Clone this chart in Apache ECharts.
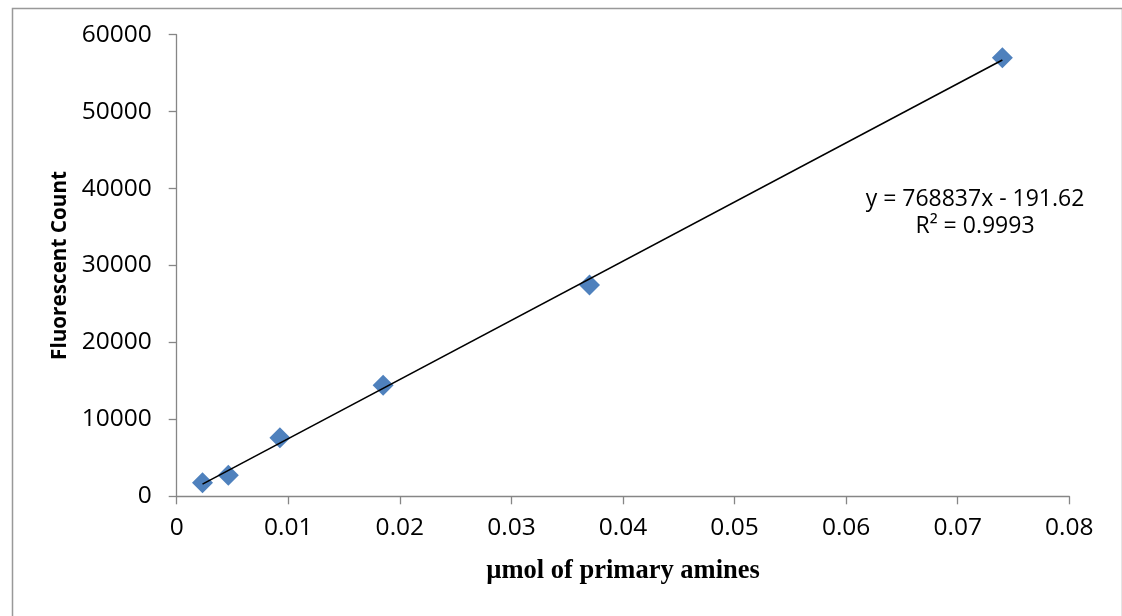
<!DOCTYPE html>
<html>
<head>
<meta charset="utf-8">
<script src="https://cdn.jsdelivr.net/npm/echarts@6/dist/echarts.min.js"></script>
<style>html,body{margin:0;padding:0;background:#fff;}#c{width:1122px;height:616px;}</style>
</head>
<body>
<div id="c"></div>
<script>
const amines = [0.0023125, 0.004625, 0.00925, 0.0185, 0.037, 0.074];
const counts = [1750, 2750, 7600, 14450, 27450, 57000];
const trendX = [0.0023125, 0.074];
const trendY = [1586, 56702];
const xTitle = 'µmol of primary amines';
const yTitle = 'Fluorescent Count';
const eqLines = ['y = 768837x - 191.62', 'R² = 0.9993'];

const chart = echarts.init(document.getElementById('c'), null, {renderer: 'canvas'});
const axisGray = '#868686';
const font = '"Open Sans", "Noto Sans", sans-serif';
chart.setOption({
  animation: false,
  backgroundColor: '#fff',
  grid: {left: 176.7, right: 52.7, top: 34.7, bottom: 119.7, containLabel: false},
  xAxis: {
    type: 'value', min: 0, max: 0.08, interval: 0.01,
    axisLine: {show: true, onZero: false, lineStyle: {color: axisGray, width: 1.3}},
    axisTick: {show: true, length: 8, lineStyle: {color: axisGray, width: 1.3}},
    splitLine: {show: false},
    axisLabel: {color: '#000', fontFamily: font, fontSize: 24.5, margin: 19,
      formatter: v => (Math.round(v * 100) / 100).toString()},
    name: xTitle, nameLocation: 'middle', nameGap: 61,
    nameTextStyle: {color: '#000', fontFamily: '"Liberation Serif", "Times New Roman", serif', fontWeight: 'bold', fontSize: 26.5}
  },
  yAxis: {
    type: 'value', min: 0, max: 60000, interval: 10000,
    axisLine: {show: true, lineStyle: {color: axisGray, width: 1.3}},
    axisTick: {show: true, length: 8, lineStyle: {color: axisGray, width: 1.3}},
    splitLine: {show: false},
    axisLabel: {color: '#000', fontFamily: font, fontSize: 24.5, margin: 25,
      formatter: v => String(v)},
    name: yTitle, nameLocation: 'middle', nameGap: 104,
    nameTextStyle: {color: '#000', fontFamily: font, fontWeight: 'bold', fontSize: 20.7}
  },
  series: [
    {
      type: 'line', data: trendX.map((x, i) => [x, trendY[i]]),
      showSymbol: false, symbol: 'none',
      lineStyle: {color: '#000', width: 1.6}, z: 3
    },
    {
      type: 'scatter', data: amines.map((x, i) => [x, counts[i]]),
      symbol: 'diamond', symbolSize: [21, 21],
      itemStyle: {color: '#4F81BD', opacity: 1}, z: 2
    }
  ],
  graphic: [
    {type: 'rect', left: 10, top: 6, shape: {width: 1110, height: 640},
      style: {fill: 'none', stroke: '#999', lineWidth: 1.5}, silent: true, z: -1},
    {type: 'text', x: 975, y: 186,
      style: {text: eqLines.join('\n'), fill: '#000', font: '23px "Open Sans", "Noto Sans", sans-serif', textAlign: 'center', lineHeight: 27}}
  ]
});
</script>
</body>
</html>
